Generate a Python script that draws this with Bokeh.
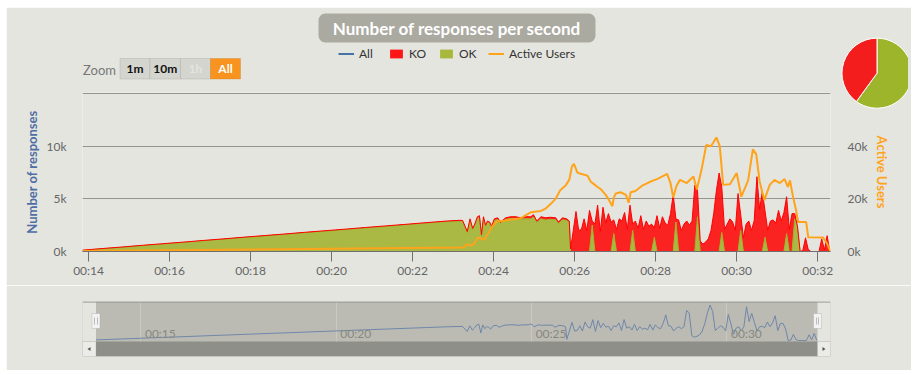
import math
from bokeh.plotting import figure
from bokeh.models import (ColumnDataSource, Range1d, LinearAxis, FixedTicker,
                          DatetimeTickFormatter, Label, BoxAnnotation, PolyAnnotation,
                          Legend, LegendItem)
from bokeh.layouts import column
from bokeh.core.properties import value
from bokeh.embed import file_html
from bokeh.resources import INLINE

# ---------------- data (seconds after 00:00) ----------------
resp_t = [831, 860, 890, 920, 950, 980, 1010, 1040, 1070, 1100, 1130, 1160, 1190, 1220, 1250,
          1280, 1310, 1340, 1370, 1390,
          1394, 1401, 1405, 1409, 1412, 1416, 1419, 1422, 1425, 1428, 1431, 1434, 1437, 1441,
          1446, 1450, 1458, 1465, 1473, 1480, 1487, 1495, 1499, 1504, 1510, 1517, 1524, 1532,
          1536, 1542, 1548, 1552, 1554,
          1558, 1562, 1566, 1570, 1574, 1578, 1582, 1586, 1590, 1594, 1598, 1602, 1606, 1610,
          1614, 1618, 1622, 1626, 1630, 1634, 1638, 1642, 1646, 1650, 1654, 1658, 1662, 1666,
          1670, 1674, 1678, 1682, 1686, 1690, 1694, 1698, 1702, 1706, 1710, 1714, 1718, 1722,
          1726, 1730, 1734, 1738, 1742, 1746, 1750, 1754, 1758, 1762, 1766, 1770, 1774, 1778,
          1782, 1786, 1790, 1794, 1798, 1802, 1806, 1810, 1814, 1818, 1822, 1826, 1830, 1834,
          1838, 1842, 1846, 1850, 1854, 1858, 1862, 1866, 1870, 1874, 1878, 1882, 1886, 1890,
          1894, 1898, 1902, 1906, 1910, 1914, 1918, 1922, 1926, 1930, 1934, 1938]
ok_resp = [100, 250, 400, 560, 710, 860, 1020, 1170, 1330, 1480, 1625, 1785, 1930, 2080, 2240,
           2385, 2535, 2690, 2830, 2890,
           2850, 1780, 2950, 2080, 2500, 3150, 3250, 1500, 3150, 2400, 2780, 2680, 2300, 2950,
           3050, 2680, 3050, 3140, 3140, 3050, 3120, 3100, 3280, 2750, 3100, 3000, 3050, 3020,
           2650, 3020, 2950, 2780, 0,
           0, 0, 0, 0, 0, 0, 0, 2500, 0, 0, 0, 0, 0, 0,
           0, 1700, 0, 0, 0, 0, 0, 0, 2000, 0, 0, 0, 0, 0,
           0, 0, 1350, 0, 0, 0, 0, 0, 0, 0, 2800, 0, 0, 0,
           0, 0, 0, 0, 3300, 0, 0, 0, 0, 0, 0, 0, 0, 1800,
           0, 0, 0, 0, 0, 0, 2000, 0, 0, 0, 0, 0, 0, 0,
           0, 1350, 0, 0, 0, 0, 0, 0, 0, 1700, 0, 0, 3100, 2300,
           0, 0, 0, 0, 0, 0, 0, 0, 0, 0, 0, 0]
ko_resp = [30, 30, 30, 30, 30, 30, 30, 30, 30, 30, 35, 35, 40, 40, 40,
           45, 45, 50, 60, 70,
           100, 120, 150, 120, 100, 150, 150, 100, 150, 100, 120, 120, 100, 150,
           150, 120, 150, 160, 160, 150, 180, 200, 220, 150, 200, 200, 200, 180,
           150, 180, 150, 120, 250,
           2000, 3800, 2000, 2100, 3100, 2000, 3900, 400, 2600, 4400, 1900, 4200, 2700, 3600,
           2800, 1300, 2100, 3100, 2900, 3700, 2100, 4400, 600, 2900, 2200, 3400, 2100, 2900,
           2400, 2600, 900, 3400, 2200, 3300, 2700, 2500, 3600, 5400, 300, 3000, 2000, 2600,
           2900, 2500, 2900, 6300, 2500, 1000, 700, 900, 1200, 2000, 3600, 5800, 7450, 4300,
           2100, 2600, 3100, 2800, 2000, 5500, 1500, 1300, 2600, 2900, 2000, 2950, 7100, 4000,
           5700, 2500, 2000, 2900, 3000, 2700, 3900, 2900, 3700, 3500, 2100, 3600, 500, 150,
           0, 100, 1300, 200, 0, 0, 0, 0, 1200, 150, 1500, 0]

users_t = [831, 1000, 1200, 1390, 1396, 1401, 1406, 1411, 1416, 1421, 1426, 1433, 1438, 1445,
           1455, 1465, 1480, 1487, 1495, 1510, 1517, 1524, 1532, 1539, 1547, 1552, 1556, 1559,
           1564, 1569, 1579, 1584, 1589, 1594, 1599, 1606, 1611, 1616, 1618, 1621, 1628, 1636,
           1640, 1643, 1650, 1660, 1668, 1675, 1682, 1690, 1697, 1702, 1706, 1711, 1716, 1726,
           1736, 1741, 1748, 1755, 1762, 1770, 1775, 1780, 1790, 1800, 1807, 1817, 1824, 1829,
           1834, 1841, 1849, 1856, 1864, 1871, 1876, 1879, 1883, 1888, 1891, 1903, 1906, 1928,
           1934, 1939]
users = [200, 600, 1000, 1500, 1600, 2800, 2200, 2800, 5100, 5100, 4400, 7300, 9500, 11500,
         11700, 12100, 12600, 13700, 14900, 15400, 16300, 17900, 20100, 23400, 25200, 27200,
         32300, 33300, 30000, 29500, 28800, 26500, 25500, 24500, 23600, 21500, 19500, 17200,
         20500, 22000, 22500, 21500, 18500, 22500, 23000, 25000, 26000, 26800, 27500, 28500,
         29500, 26000, 20500, 25000, 27200, 26000, 28500, 23500, 31100, 40500, 40000, 43300,
         40000, 25300, 25500, 29800, 20800, 27000, 38800, 37000, 26600, 19500, 25300, 27200,
         26000, 27500, 24500, 27000, 21400, 15700, 11200, 11200, 5400, 5300, 3000, 0]

x_tick_labels = ["00:14", "00:16", "00:18", "00:20", "00:22", "00:24", "00:26", "00:28",
                 "00:30", "00:32"]
nav_tick_labels = ["00:15", "00:20", "00:25", "00:30"]
resp_ticks = [0, 5000, 10000]
resp_tick_labels = ["0k", "5k", "10k"]
resp_grid = [0, 5000, 10000, 15000]
users_ticks = [0, 20000, 40000]
users_tick_labels = ["0k", "20k", "40k"]
pie_labels = ["OK", "KO"]
pie_values = [60, 40]
zoom_buttons = ["1m", "10m", "1h", "All"]
legend_labels = ["All", "KO", "OK", "Active Users"]
title_text = "Number of responses per second"
resp_axis_title = "Number of responses"
users_axis_title = "Active Users"

# ---------------- style / layout constants (page pixels) ----------------
CARD = "#e5e5e0"
PAGE_BG = "#f7f9fb"
GREEN = "#A0B228"
RED = "#FF0000"
BLUE = "#4572A7"
ORANGE = "#FFA31A"
FONT = "Lato"
LABEL_GRAY = "#666666"

OX, OY = 6, 7            # card origin on the page
CARD_W = 905
MAIN_H = 278             # page y 7 .. 285
NAV_H = 85               # page y 285 .. 370
FR_L, FR_R = 82, 830     # plot frame, page x
FR_BOTTOM = 251          # page y of value 0
GRID_TOP = 93            # page y of the 15k grid line
FR_TOP = GRID_TOP - 1
RESP_MAX = 15000
USERS_MAX = 60000


def hm_ms(s):
    h, m = s.split(":")
    return (int(h) * 3600 + int(m) * 60) * 1000


t_ms = [t * 1000 for t in resp_t]
total = [o + k for o, k in zip(ok_resp, ko_resp)]
src = ColumnDataSource(dict(t=t_ms, ok=ok_resp, ko=ko_resp, total=total))
usrc = ColumnDataSource(dict(t=[t * 1000 for t in users_t], users=users))

x_start = min(resp_t[0], users_t[0]) * 1000
x_end = max(resp_t[-1], users_t[-1]) * 1000
ext = (FR_BOTTOM - FR_TOP) / (FR_BOTTOM - GRID_TOP)

# ---------------- main chart ----------------
p = figure(width=CARD_W, height=MAIN_H, x_axis_type="datetime",
           x_range=Range1d(x_start, x_end), y_range=Range1d(0, RESP_MAX * ext),
           output_backend="svg", toolbar_location=None, tools="",
           min_border_left=FR_L - OX, min_border_right=OX + CARD_W - FR_R,
           min_border_top=FR_TOP - OY, min_border_bottom=OY + MAIN_H - FR_BOTTOM,
           background_fill_color=CARD, border_fill_color=CARD, outline_line_color=None)

p.varea_stack(["ok", "ko"], x="t", color=[GREEN, RED], fill_alpha=0.85, source=src)
p.line("t", "ok", source=src, line_color=GREEN, line_width=1)
p.line("t", "total", source=src, line_color=RED, line_width=1)

p.extra_y_ranges = {"users": Range1d(0, USERS_MAX * ext)}
p.line("t", "users", source=usrc, y_range_name="users", line_color=ORANGE, line_width=2)

# x axis
p.xaxis.ticker = FixedTicker(ticks=[hm_ms(s) for s in x_tick_labels])
fmt = "%H:%M"
p.xaxis.formatter = DatetimeTickFormatter(milliseconds=fmt, seconds=fmt, minsec=fmt, minutes=fmt,
                                          hourmin=fmt, hours=fmt)
p.xaxis.axis_line_color = "#707070"
p.xaxis.major_tick_line_color = "#707070"
p.xaxis.major_tick_out = 10
p.xaxis.major_tick_in = 0
p.xaxis.minor_tick_line_color = None
p.xaxis.major_label_standoff = 1
p.xaxis.major_label_text_font = FONT
p.xaxis.major_label_text_font_size = "12px"
p.xaxis.major_label_text_color = LABEL_GRAY

# left axis
p.yaxis.ticker = FixedTicker(ticks=resp_ticks)
p.yaxis.major_label_overrides = {v: l for v, l in zip(resp_ticks, resp_tick_labels)}
p.yaxis.axis_line_color = None
p.yaxis.major_tick_line_color = None
p.yaxis.minor_tick_line_color = None
p.yaxis.major_label_standoff = 10
p.yaxis.major_label_text_font = FONT
p.yaxis.major_label_text_font_size = "12px"
p.yaxis.major_label_text_color = LABEL_GRAY
p.yaxis.axis_label = resp_axis_title
p.yaxis.axis_label_text_font = FONT
p.yaxis.axis_label_text_font_size = "13px"
p.yaxis.axis_label_text_font_style = "bold"
p.yaxis.axis_label_text_color = "#4e6ea5"
p.yaxis.axis_label_standoff = 3

# right axis
ax_u = LinearAxis(y_range_name="users", ticker=FixedTicker(ticks=users_ticks),
                  major_label_overrides={v: l for v, l in zip(users_ticks, users_tick_labels)},
                  axis_line_color=None, major_tick_line_color=None, minor_tick_line_color=None,
                  major_label_standoff=11, major_label_text_font=FONT,
                  major_label_text_font_size="12px", major_label_text_color=LABEL_GRAY,
                  axis_label=users_axis_title, axis_label_text_font=FONT,
                  axis_label_text_font_size="13px", axis_label_text_font_style="bold",
                  axis_label_text_color=ORANGE, axis_label_standoff=3)
p.add_layout(ax_u, "right")

p.xgrid.grid_line_color = None
p.ygrid.ticker = FixedTicker(ticks=resp_grid)
p.ygrid.grid_line_color = "#959590"


def cbox(fig, l, r, t, b, fill, line=None, lw=1, radius=0, ox=OX, oy=OY):
    fig.add_layout(BoxAnnotation(left=l - ox, right=r - ox, top=t - oy, bottom=b - oy,
                                 left_units="canvas", right_units="canvas",
                                 top_units="canvas", bottom_units="canvas",
                                 fill_color=fill, fill_alpha=1, line_color=line, line_width=lw,
                                 border_radius=radius))


def clabel(fig, x, y, text, size, color, bold=False, align="center", ox=OX, oy=OY):
    fig.add_layout(Label(x=x - ox, y=y - oy, x_units="canvas", y_units="canvas", text=text,
                         text_align=align, text_baseline="middle", text_font=FONT,
                         text_font_size=size, text_font_style="bold" if bold else "normal",
                         text_color=color))


# ---------------- navigator ----------------
NAV_OY = OY + MAIN_H                # 285
NAV_TOP, NAV_DATA_BOTTOM, NAV_BOTTOM = 301, 341, 356
NAV_L, NAV_R = 95.5, 817
NAV_YMIN, NAV_YMAX = -200, 8200
sx = (NAV_R - NAV_L) / (x_end - x_start)
sy = (NAV_DATA_BOTTOM - NAV_TOP) / (NAV_YMAX - NAV_YMIN)
nav = figure(width=CARD_W, height=NAV_H,
             x_range=Range1d(x_start - (NAV_L - FR_L) / sx, x_end + (FR_R - NAV_R) / sx),
             y_range=Range1d(NAV_YMIN - (NAV_BOTTOM - NAV_DATA_BOTTOM) / sy, NAV_YMAX),
             output_backend="svg", toolbar_location=None, tools="",
             min_border_left=FR_L - OX, min_border_right=OX + CARD_W - FR_R,
             min_border_top=NAV_TOP - NAV_OY, min_border_bottom=NAV_OY + NAV_H - NAV_BOTTOM,
             background_fill_color="#bbbbb4", border_fill_color=CARD, outline_line_color=None)
nav.axis.visible = False
nav.ygrid.grid_line_color = None
nav_ms = [hm_ms(s) for s in nav_tick_labels]
nav.xgrid.ticker = FixedTicker(ticks=nav_ms)
nav.xgrid.grid_line_color = "#c9c9c2"
nav.line(t_ms, total, line_color="#6f87a9", line_width=1)
nav.text(x=nav_ms, y=[NAV_YMIN] * len(nav_ms), text=nav_tick_labels, x_offset=4, y_offset=-8,
         text_baseline="middle", text_align="left", text_font=value(FONT),
         text_font_size="12px", text_color="#88887f")

cbox(nav, FR_L, NAV_L, NAV_TOP, NAV_DATA_BOTTOM, CARD, oy=NAV_OY)
cbox(nav, NAV_R, FR_R, NAV_TOP, NAV_DATA_BOTTOM, CARD, oy=NAV_OY)
cbox(nav, FR_L, FR_R, NAV_TOP, NAV_TOP + 1, "#8f8f8a", oy=NAV_OY)
cbox(nav, NAV_L, NAV_R, NAV_DATA_BOTTOM, NAV_BOTTOM, "#8f8f8a", oy=NAV_OY)
cbox(nav, FR_L, NAV_L, NAV_DATA_BOTTOM, NAV_BOTTOM, "#ebebe7", "#a8a8a3", oy=NAV_OY)
cbox(nav, NAV_R, FR_R, NAV_DATA_BOTTOM, NAV_BOTTOM, "#ebebe7", "#a8a8a3", oy=NAV_OY)
for xs in ([90, 90, 87], [822, 822, 825]):
    nav.add_layout(PolyAnnotation(xs=[x - OX for x in xs], ys=[346.5 - NAV_OY, 350.5 - NAV_OY,
                                                                348.5 - NAV_OY],
                                  xs_units="canvas", ys_units="canvas", fill_color="#555555",
                                  fill_alpha=1, line_color=None))
for hx in (NAV_L, NAV_R):
    cbox(nav, hx - 4, hx + 4, 313, 328, "#f2f2f2", "#999999", oy=NAV_OY)
    cbox(nav, hx - 1.5, hx - 1, 317, 324, "#888888", oy=NAV_OY)
    cbox(nav, hx + 1, hx + 1.5, 317, 324, "#888888", oy=NAV_OY)

layout = column(p, nav, spacing=0, margin=(OY, OX, 375 - OY - MAIN_H - NAV_H, OX))

# ---------------- header overlay: title, legend, range selector, pie ----------------
HDR_W, HDR_H = 908, 110
hdr = figure(width=HDR_W, height=HDR_H, x_range=Range1d(0, HDR_W), y_range=Range1d(0, HDR_H),
             output_backend="svg", toolbar_location=None, tools="",
             min_border=0, background_fill_alpha=0, border_fill_alpha=0,
             outline_line_color=None,
             styles={"position": "absolute", "left": "0px", "top": "0px",
                     "pointer-events": "none"})
hdr.axis.visible = False
hdr.grid.visible = False

cbox(hdr, 318, 595, 13, 42, "#abaaa1", radius=7, ox=0, oy=0)
clabel(hdr, 456.5, 27.5, title_text, "17px", "white", bold=True, ox=0, oy=0)

# legend keys styled like the series (kept outside the visible header range)
off = [-50, -40]
k_all = hdr.line(x=off, y=off, line_color=BLUE, line_width=2)
k_ko = hdr.varea(x=off, y1=off, y2=off, fill_color=RED, fill_alpha=0.9)
k_ok = hdr.varea(x=off, y1=off, y2=off, fill_color=GREEN, fill_alpha=0.9)
k_users = hdr.line(x=off, y=off, line_color=ORANGE, line_width=2)
LEG_BOTTOM = 61
legend = Legend(items=[LegendItem(label=value(l), renderers=[r])
                       for l, r in zip(legend_labels, [k_all, k_ko, k_ok, k_users])],
                orientation="horizontal", location=(338, HDR_H - LEG_BOTTOM),
                padding=0, margin=0, spacing=9, glyph_width=16, glyph_height=11,
                label_standoff=5, label_height=12, label_text_font=FONT,
                label_text_font_size="12px", label_text_color="#333333",
                background_fill_alpha=0, border_line_color=None)
hdr.add_layout(legend)

clabel(hdr, 82.5, 69, "Zoom", "13px", "#777777", align="left", ox=0, oy=0)
btn_edges = [119.5, 149.5, 180, 210, 240]
for i, lab in enumerate(zoom_buttons):
    sel = (lab == "All")
    dis = (lab == "1h")
    cbox(hdr, btn_edges[i], btn_edges[i + 1], 58, 78.5, "#f7931e" if sel else "#d5d5d0",
         "#c47a25" if sel else "#9a9a96", ox=0, oy=0)
    clabel(hdr, (btn_edges[i] + btn_edges[i + 1]) / 2, 68, lab, "12px",
           "white" if sel else ("#e4e4e0" if dis else "#111111"), bold=True, ox=0, oy=0)

PIE_CX, PIE_CY, PIE_R = 876.5, 72.7, 35
pie_colors = {"OK": "#9db52a", "KO": "#f41d1d"}
pie_sum = float(sum(pie_values))
starts, ends, cols = [], [], []
cum = 0.0
for lab, v in zip(pie_labels, pie_values):
    starts.append(math.pi / 2 - cum / pie_sum * 2 * math.pi)
    cum += v
    ends.append(math.pi / 2 - cum / pie_sum * 2 * math.pi)
    cols.append(pie_colors[lab])
hdr.wedge(x=[PIE_CX] * len(pie_values), y=[HDR_H - PIE_CY] * len(pie_values), radius=PIE_R,
          start_angle=starts, end_angle=ends, direction="clock", fill_color=cols,
          line_color="white", line_width=1)

html = file_html([layout, hdr], INLINE)
html = html.replace("<body>", '<body style="background-color:%s;">' % PAGE_BG, 1)
open("out.html", "w").write(html)
